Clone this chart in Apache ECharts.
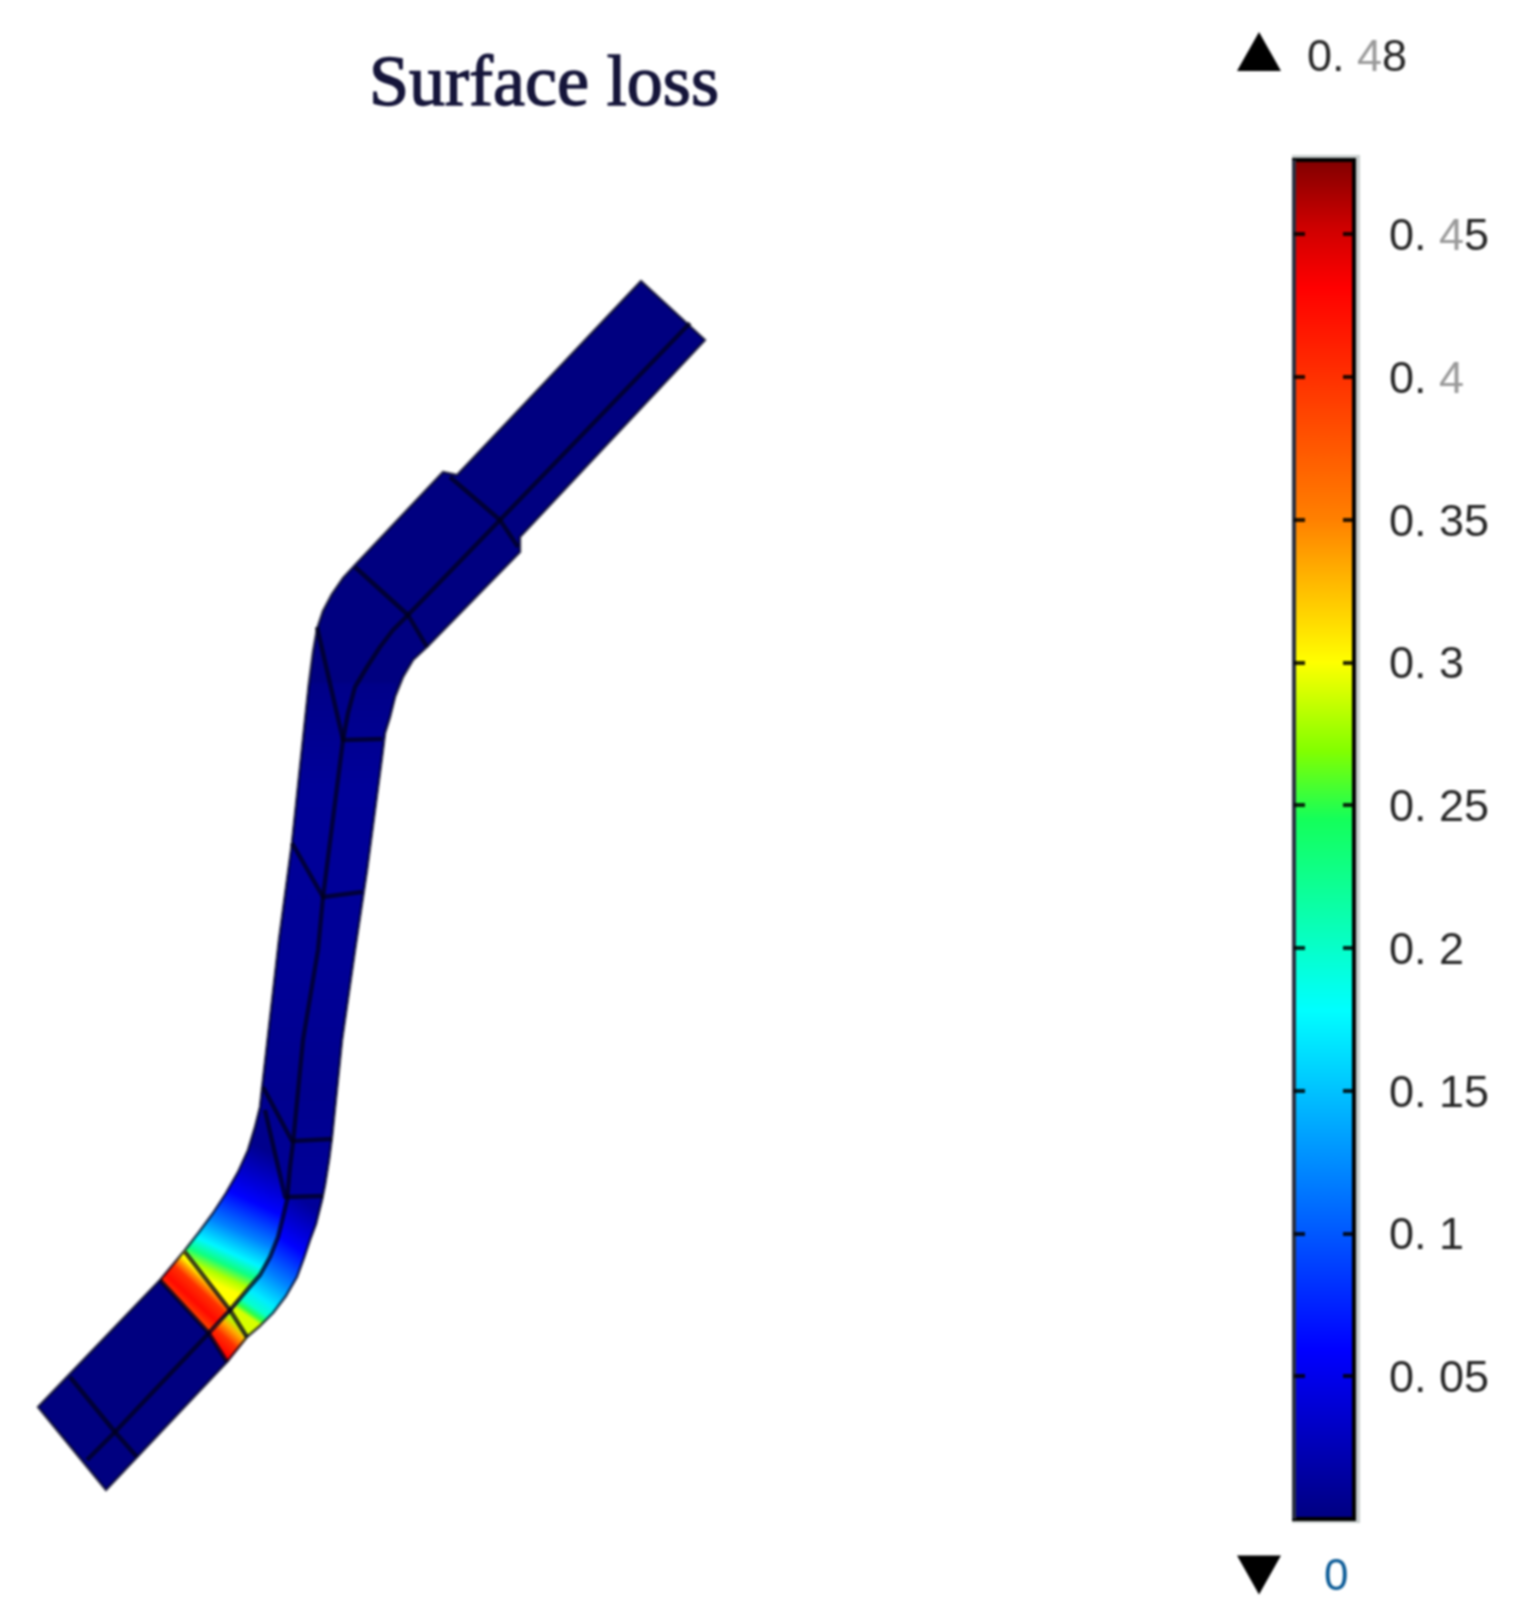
<!DOCTYPE html>
<html>
<head>
<meta charset="utf-8">
<title>Surface loss</title>
<script src="https://cdn.jsdelivr.net/npm/echarts@6/dist/echarts.min.js"></script>
<style>
    html, body { margin: 0; background: #fff; }
    #chart { width: 1517px; height: 1622px; filter: blur(0.8px); }
</style>
</head>
<body>
<div id="chart"></div>
<script>
// model outline of the part
const bodyEdge = [[641,281],[705,340],[520,537],[520,552],[427,647],[413,660],[403,677],[395,697],[390,717],[385,733],[382,757],
    [367,870],[355,950],[342,1040],[332,1137],[329,1160],[325,1185],[322,1200],[316,1224],[310,1240],[304,1258],[297,1277],
    [286,1296],[273,1313],[260,1326],[247,1337],[227,1362],[106,1490],[38,1407],[160,1280],[185,1250],[199,1232],[213,1213],
    [226,1193],[238,1172],[248,1150],[255,1127],[260,1107],[263,1080],[279,940],[292,843],[309,683],[313,652],[317,629],
    [323,611],[332,594],[343,578],[355,565],[443,472],[457,475]];

// regions with a loss gradient: ring, gradient from/to, loss along the gradient
const midRing = [[309,683],[395,683],[395,697],[390,717],[385,733],[382,757],[367,870],[355,950],[342,1040],[332,1137],[329,1160],
    [325,1185],[322,1200],[287,1200],[265,1110],[260,1107],[263,1080],[279,940],[292,843]];
const midAxis = [[340,683],[340,1197]];
const midLoss = [[0,0.004],[0.2,0.012],[0.55,0.011],[0.8,0.007],[1,0.012]];

const redRing = [[160,1280],[185,1250],[230,1310],[208,1332]];
const redAxis = [[184,1306],[208,1280]];
const redLoss = [[0,0.39],[0.3,0.425],[0.65,0.40],[0.85,0.34],[1,0.30]];

const tipRing = [[208,1332],[230,1312],[247,1338],[227,1362]];
const tipAxis = [[217,1347],[238,1324]];
const tipLoss = [[0,0.43],[0.4,0.40],[0.75,0.33],[1,0.28]];

const innerRing = [[185,1250],[199,1232],[213,1213],[226,1193],[238,1172],[248,1150],[255,1127],[260,1107],[265,1110],[287,1200],
    [283,1217],[278,1237],[270,1257],[260,1275],[247,1290],[230,1310]];
const innerAxis = [[207,1280],[267,1150]];
const innerLoss = [[0,0.30],[0.07,0.28],[0.15,0.23],[0.24,0.175],[0.4,0.12],[0.63,0.06],[1,0.006]];

const outerRing = [[230,1312],[247,1290],[260,1275],[270,1257],[278,1237],[283,1217],[287,1200],[322,1200],[316,1224],[310,1240],
    [304,1258],[297,1277],[286,1296],[273,1313],[260,1326],[247,1337]];
const outerAxis = [[238,1310],[310,1205]];
const outerLoss = [[0,0.29],[0.04,0.25],[0.09,0.2],[0.18,0.17],[0.38,0.12],[0.66,0.06],[1,0.012]];

// mesh edges
const meshCentre = [[690,323],[500,520],[408,615],[393,630],[380,647],[367,667],[355,687],[348,713],[343,740],[323,897],[318,950],
    [303,1040],[293,1143],[290,1167],[287,1200],[283,1217],[278,1237],[270,1257],[260,1275],[247,1290],[230,1310],[207,1335],
    [115,1432],[87,1460]];
const meshCrossA = [[450,477],[500,520],[518,547]];
const meshCrossB = [[355,567],[408,615],[427,647]];
const meshCrossC = [[317,627],[343,740],[382,739]];
const meshCrossD = [[292,843],[323,897],[362,892]];
const meshCrossE = [[263,1087],[292,1141],[332,1139]];
const meshCrossF = [[265,1110],[285,1197],[323,1196]];
const meshCrossG = [[185,1252],[230,1310],[247,1337]];
const meshCrossH = [[160,1280],[208,1332],[227,1362]];
const meshCrossI = [[70,1377],[115,1432],[137,1457]];

// colour bar
const lossMax = 0.476;
const barTicks = [0.05, 0.1, 0.15, 0.2, 0.25, 0.3, 0.35, 0.4, 0.45];
const barLabels = ['0. 05', '0. 1', '0. 15', '0. 2', '0. 25', '0. 3', '0. 35', '0. 4', '0. 45'];
const rangeMarks = [[1259,51.5],[1259,1575]];
const rangeLabels = ['0. 48', '0'];

const jetStops = [
    { offset: 0, color: [0, 0, 127] },
    { offset: 0.125, color: [0, 0, 255] },
    { offset: 0.375, color: [0, 255, 255] },
    { offset: 0.515, color: [20, 255, 90] },
    { offset: 0.565, color: [130, 255, 0] },
    { offset: 0.63, color: [255, 255, 0] },
    { offset: 0.735, color: [255, 128, 0] },
    { offset: 0.84, color: [255, 48, 0] },
    { offset: 0.905, color: [255, 0, 0] },
    { offset: 0.95, color: [205, 0, 0] },
    { offset: 1, color: [127, 0, 0] }
];

function jet(loss) {
    const t = Math.min(1, Math.max(0, loss / lossMax));
    for (let i = 1; i < jetStops.length; i++) {
        const a = jetStops[i - 1], b = jetStops[i];
        if (t <= b.offset) {
            const k = (t - a.offset) / (b.offset - a.offset);
            const c = a.color.map((v, j) => Math.round(v + (b.color[j] - v) * k));
            return 'rgb(' + c.join(',') + ')';
        }
    }
    return 'rgb(127,0,0)';
}

function digits(label) {
    // the 4s in the source are printed much lighter than the other digits
    return label.split(/(4)/).filter(s => s).map(s => s === '4' ? '{g|4}' : '{d|' + s + '}').join('');
}

function ring(points, api) {
    return points.map(p => api.coord(p));
}

const patches = [
    [midRing, midAxis, midLoss],
    [innerRing, innerAxis, innerLoss],
    [outerRing, outerAxis, outerLoss],
    [redRing, redAxis, redLoss],
    [tipRing, tipAxis, tipLoss]
];
const meshLines = [meshCentre, meshCrossA, meshCrossB, meshCrossC, meshCrossD, meshCrossE, meshCrossF, meshCrossG, meshCrossH, meshCrossI];

const digitRich = {
    d: { fontFamily: 'Liberation Sans', fontSize: 45, color: '#262626' },
    g: { fontFamily: 'Liberation Sans', fontSize: 45, color: '#9a9a9a' }
};

const myChart = echarts.init(document.getElementById('chart'), null, { renderer: 'canvas' });

myChart.setOption({
    backgroundColor: '#fff',
    animation: false,
    title: {
        text: 'Surface loss',
        left: 364,
        top: 45,
        textStyle: {
            fontFamily: 'Liberation Serif', fontSize: 72, fontWeight: 'normal', color: '#15153a',
            textBorderColor: '#15153a', textBorderWidth: 1.4
        }
    },
    grid: [
        { left: 0, top: 0, width: 1517, height: 1622 },
        { left: 1294, top: 160, width: 60, height: 1359 }
    ],
    xAxis: [
        { gridIndex: 0, type: 'value', min: 0, max: 1517, show: false },
        { gridIndex: 1, type: 'value', min: 0, max: 1, show: false }
    ],
    yAxis: [
        { gridIndex: 0, type: 'value', min: 0, max: 1622, inverse: true, show: false },
        {
            gridIndex: 1, type: 'value', min: 0, max: lossMax, interval: 0.05, position: 'left', z: 8,
            axisLine: { show: false }, splitLine: { show: false }, axisLabel: { show: false },
            axisTick: { show: true, inside: true, length: 11, customValues: barTicks, lineStyle: { color: 'rgba(0,0,0,0.85)', width: 4 } }
        },
        {
            gridIndex: 1, type: 'value', min: 0, max: lossMax, interval: 0.05, position: 'right', z: 8,
            axisLine: { show: false }, splitLine: { show: false },
            axisTick: { show: true, inside: true, length: 11, customValues: barTicks, lineStyle: { color: 'rgba(0,0,0,0.85)', width: 4 } },
            axisLabel: {
                show: true, margin: 35, customValues: barTicks, rich: digitRich, padding: [7, 0, 0, 0],
                formatter: v => digits(barLabels[barTicks.findIndex(t => Math.abs(t - v) < 1e-6)] || '')
            }
        }
    ],
    series: [
        {
            // part body
            type: 'custom', xAxisIndex: 0, yAxisIndex: 0, coordinateSystem: 'cartesian2d', silent: true, z: 2,
            data: [0],
            renderItem: (params, api) => ({
                type: 'polygon',
                shape: { points: ring(bodyEdge, api) },
                style: { fill: '#000080' }
            })
        },
        {
            // loss regions
            type: 'custom', xAxisIndex: 0, yAxisIndex: 0, silent: true, z: 3,
            data: patches.map((p, i) => i),
            renderItem: (params, api) => {
                const p = patches[params.dataIndex];
                const from = api.coord(p[1][0]), to = api.coord(p[1][1]);
                return {
                    type: 'polygon',
                    shape: { points: ring(p[0], api) },
                    style: {
                        fill: new echarts.graphic.LinearGradient(from[0], from[1], to[0], to[1],
                            p[2].map(s => ({ offset: s[0], color: jet(s[1]) })), true)
                    }
                };
            }
        },
        {
            // mesh edges
            type: 'custom', xAxisIndex: 0, yAxisIndex: 0, silent: true, z: 4,
            data: meshLines.map((m, i) => i),
            renderItem: (params, api) => ({
                type: 'polyline',
                shape: { points: ring(meshLines[params.dataIndex], api) },
                style: { fill: 'none', stroke: 'rgba(0,0,25,0.72)', lineWidth: 4.4, lineJoin: 'round' }
            })
        },
        {
            // outline of the part
            type: 'custom', xAxisIndex: 0, yAxisIndex: 0, silent: true, z: 5,
            data: [0],
            renderItem: (params, api) => ({
                type: 'polygon',
                shape: { points: ring(bodyEdge, api) },
                style: { fill: 'none', stroke: 'rgba(0,0,25,0.6)', lineWidth: 3, lineJoin: 'round' }
            })
        },
        {
            // colour bar
            type: 'custom', xAxisIndex: 1, yAxisIndex: 1, silent: true, z: 3,
            data: [[0, lossMax, 1, 0]],
            renderItem: (params, api) => {
                const a = api.coord([api.value(0), api.value(1)]);
                const b = api.coord([api.value(2), api.value(3)]);
                return {
                    type: 'group',
                    children: [
                        { type: 'rect', shape: { x: a[0] - 2, y: a[1] - 5, width: b[0] - a[0] + 8, height: b[1] - a[1] + 9 }, style: { fill: '#c8cecd' } },
                        {
                            type: 'rect',
                            shape: { x: a[0], y: a[1], width: b[0] - a[0], height: b[1] - a[1] },
                            style: {
                                fill: new echarts.graphic.LinearGradient(0, 1, 0, 0, jetStops.map(s => ({ offset: s.offset, color: 'rgb(' + s.color.join(',') + ')' }))),
                                stroke: '#000', lineWidth: 4
                            }
                        },
                        { type: 'line', shape: { x1: a[0], y1: a[1], x2: a[0], y2: b[1] }, style: { stroke: '#2a3040', lineWidth: 4 } }
                    ]
                };
            }
        },
        {
            // over / under range markers
            type: 'scatter', xAxisIndex: 0, yAxisIndex: 0, silent: true, z: 6,
            symbol: 'triangle', symbolSize: [44, 39],
            itemStyle: { color: '#000', opacity: 1 },
            data: [
                {
                    value: rangeMarks[0],
                    label: { show: true, position: 'right', distance: 26, offset: [0, 7], formatter: digits(rangeLabels[0]), rich: digitRich }
                },
                {
                    value: rangeMarks[1], symbolRotate: 180,
                    label: {
                        show: true, position: 'right', distance: 43, offset: [0, 3], formatter: rangeLabels[1],
                        fontFamily: 'Liberation Sans', fontSize: 44, color: '#0a5a96'
                    }
                }
            ]
        }
    ]
});
</script>
</body>
</html>
